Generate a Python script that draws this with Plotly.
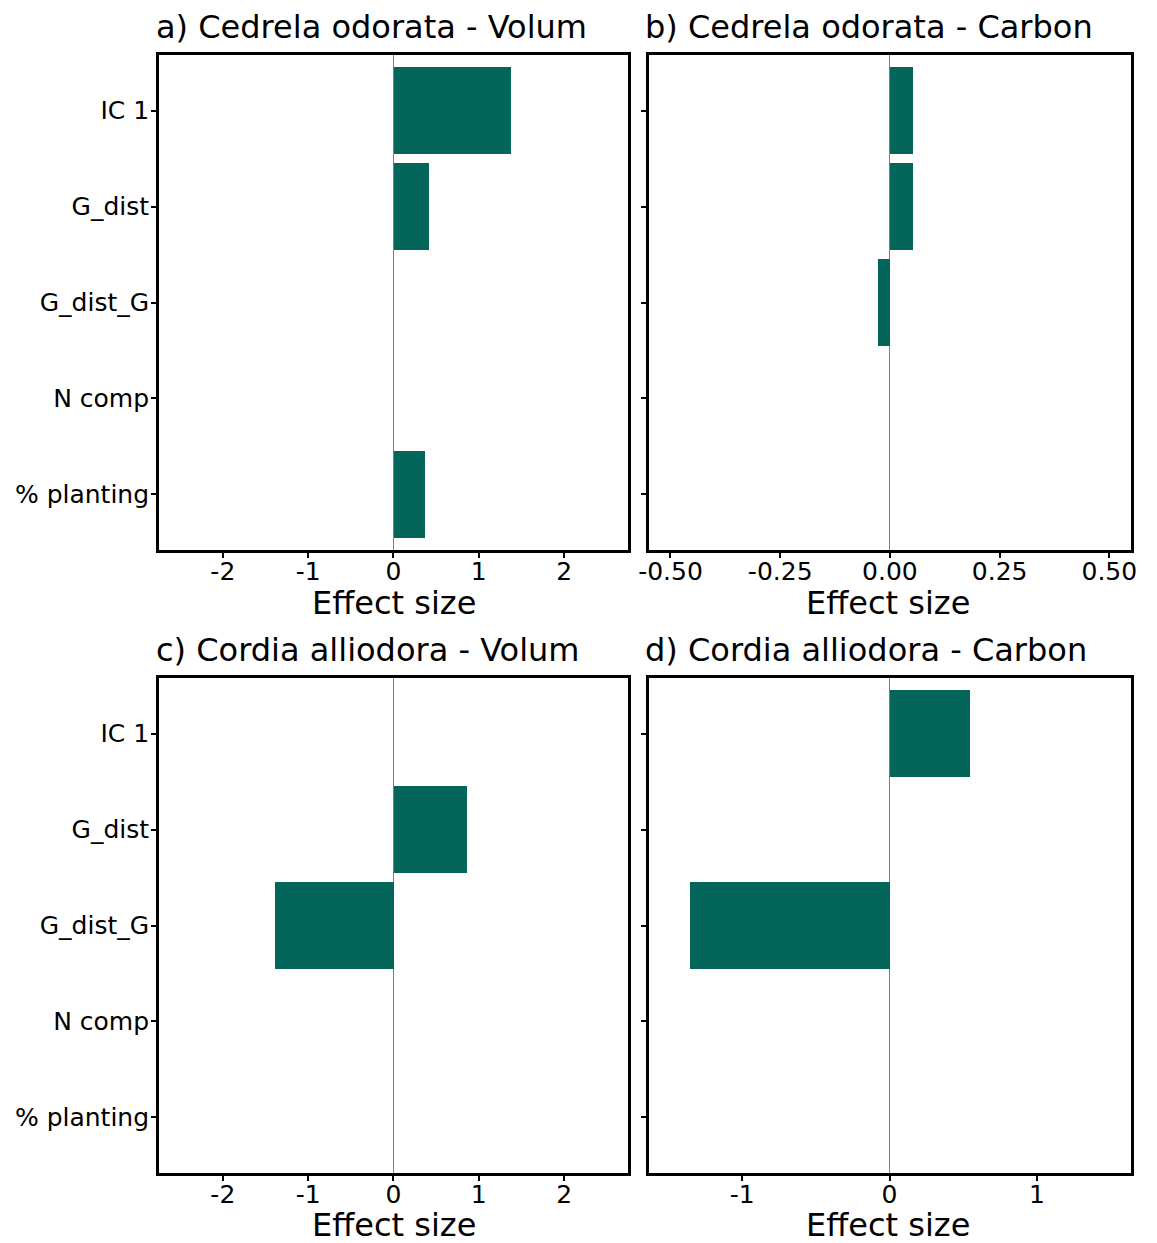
import plotly.graph_objects as go

categories = ["IC 1", "G_dist", "G_dist_G", "N comp", "% planting"]

cedrela_volum = [1.38, 0.41, None, None, 0.37]
cedrela_carbon = [0.052, 0.052, -0.029, None, None]
cordia_volum = [None, 0.86, -1.385, None, None]
cordia_carbon = [0.54, None, -1.355, None, None]

titles = ["a) Cedrela odorata - Volum", "b) Cedrela odorata - Carbon",
          "c) Cordia alliodora - Volum", "d) Cordia alliodora - Carbon"]
x_title = "Effect size"

x_ranges = [[-2.75, 2.75], [-0.55, 0.55], [-2.75, 2.75], [-1.635, 1.64]]
x_ticks = [[-2, -1, 0, 1, 2], [-0.5, -0.25, 0, 0.25, 0.5], [-2, -1, 0, 1, 2], [-1, 0, 1]]
x_ticktext = [["-2", "-1", "0", "1", "2"], ["-0.50", "-0.25", "0.00", "0.25", "0.50"],
              ["-2", "-1", "0", "1", "2"], ["-1", "0", "1"]]

W, H = 1157, 1243
col_px = [(157, 628), (648.5, 1133)]
row_px = [(55, 550), (678, 1173)]
title_start = [157, 648]
xtitle_center = [393, 889]
xtitle_y = [603, 1225]

BAR = "#04655B"
FONT = "DejaVu Sans, Arial, sans-serif"


def corr(p):
    # compensate the slight horizontal squeeze observed in the rendered page
    return (p - 7.6) / 0.9898


def px_x(p):
    return corr(p) / W


def px_y(p):
    return 1 - p / H


fig = go.Figure()
series = [cedrela_volum, cedrela_carbon, cordia_volum, cordia_carbon]
annotations = []
for i, vals in enumerate(series):
    r, c = divmod(i, 2)
    n = i + 1
    xa = "x" if n == 1 else f"x{n}"
    ya = "y" if n == 1 else f"y{n}"
    fig.add_trace(go.Bar(x=vals, y=categories, orientation="h", width=0.9,
                         marker=dict(color=BAR, line=dict(width=0)),
                         xaxis=xa, yaxis=ya, showlegend=False, hoverinfo="skip"))
    x0, x1 = col_px[c]
    y0, y1 = row_px[r]
    xd = [px_x(x0), px_x(x1)]
    yd = [px_y(y1), px_y(y0)]
    fig.layout[f"xaxis{'' if n == 1 else n}"] = dict(
        domain=xd, range=x_ranges[i], tickvals=x_ticks[i], ticktext=x_ticktext[i],
        anchor=ya, showline=True, mirror=True, linecolor="black", linewidth=2.5,
        ticks="outside", ticklen=5, tickwidth=2, tickcolor="black",
        ticklabelstandoff=-8,
        tickfont=dict(family=FONT, size=25, color="black"),
        showgrid=False, zeroline=True, zerolinecolor="#808080", zerolinewidth=1,
        fixedrange=True)
    fig.layout[f"yaxis{'' if n == 1 else n}"] = dict(
        domain=yd, type="category", categoryorder="array", categoryarray=categories,
        range=[4.58, -0.58], anchor=xa, showline=True, mirror=True, linecolor="black",
        linewidth=2.5, ticks="outside", ticklen=5, tickwidth=2, tickcolor="black",
        ticklabelstandoff=-3,
        showticklabels=(c == 0), tickfont=dict(family=FONT, size=25, color="black"),
        showgrid=False, zeroline=False, fixedrange=True)
    annotations.append(dict(text=titles[i], x=(corr(title_start[c]) - 5) / W,
                            y=px_y(y0 - 28),
                            xref="paper", yref="paper", xanchor="left", yanchor="middle",
                            showarrow=False, font=dict(family=FONT, size=32, color="black")))
    annotations.append(dict(text=x_title, x=px_x(xtitle_center[c]), y=px_y(xtitle_y[r]),
                            xref="paper", yref="paper", xanchor="center", yanchor="middle",
                            showarrow=False, font=dict(family=FONT, size=32, color="black")))

fig.update_layout(width=W, height=H, margin=dict(l=0, r=0, t=0, b=0),
                  plot_bgcolor="white", paper_bgcolor="white", annotations=annotations,
                  bargap=0, hovermode=False)
post = ("document.body.style.margin='0';document.body.style.padding='0';"
        "document.documentElement.style.overflow='hidden';"
        "document.body.style.overflow='hidden';")
fig.write_html("out.html", post_script=post, config={"displayModeBar": False})
